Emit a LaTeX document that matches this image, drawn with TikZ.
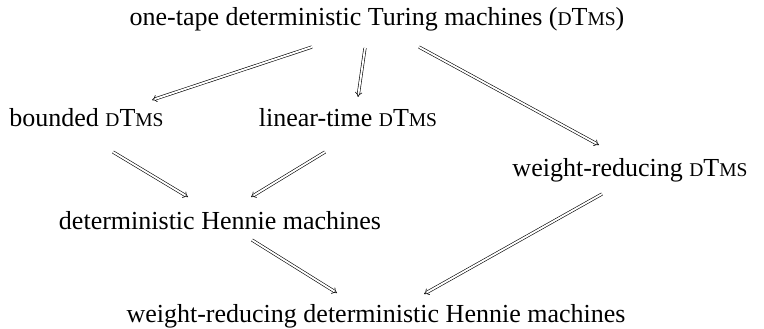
\documentclass[tikz,border=0pt]{standalone}
\usepackage{fontspec}
\setmainfont{Liberation Serif}
\usetikzlibrary{arrows.meta,calc}
\newcommand\smcp[1]{{\fontsize{19.5}{20}\selectfont #1}}
\newcommand\dtms{\smcp{D}T\smcp{MS}}
\begin{document}
\begin{tikzpicture}[x=1pt,y=-1pt,
  lbl/.style={anchor=base,inner sep=0pt,font=\fontsize{26}{30}\selectfont},
  impl/.style={double,line width=0.6pt,double distance=1.9pt,-{Implies}}]
\useasboundingbox (0,0) rectangle (764,329);
\node[lbl] (top) at (377,26) {one-tape deterministic Turing machines (\dtms)};
\node[lbl] (bounded) at (86.5,126) {bounded \dtms};
\node[lbl] (linear) at (348,126) {linear-time \dtms};
\node[lbl] (wr) at (630,176) {weight-reducing \dtms};
\node[lbl] (hennie) at (220,229) {deterministic Hennie machines};
\node[lbl] (bottom) at (376,322) {weight-reducing deterministic Hennie machines};
\draw[impl] ($(top.base)+(-65,21)$) -- ($(bounded.base)+(65.5,-26)$);
\draw[impl] ($(top.base)+(-12,22)$) -- ($(linear.base)+(10,-29)$);
\draw[impl] ($(top.base)+(42,21)$) -- ($(wr.base)+(-31,-31)$);
\draw[impl] ($(bounded.base)+(26.5,26)$) -- ($(hennie.base)+(-32,-32)$);
\draw[impl] ($(linear.base)+(-23,26)$) -- ($(hennie.base)+(31,-32)$);
\draw[impl] ($(hennie.base)+(32,11)$) -- ($(bottom.base)+(-39,-29)$);
\draw[impl] ($(wr.base)+(-28,18)$) -- ($(bottom.base)+(48,-28)$);
\end{tikzpicture}
\end{document}
